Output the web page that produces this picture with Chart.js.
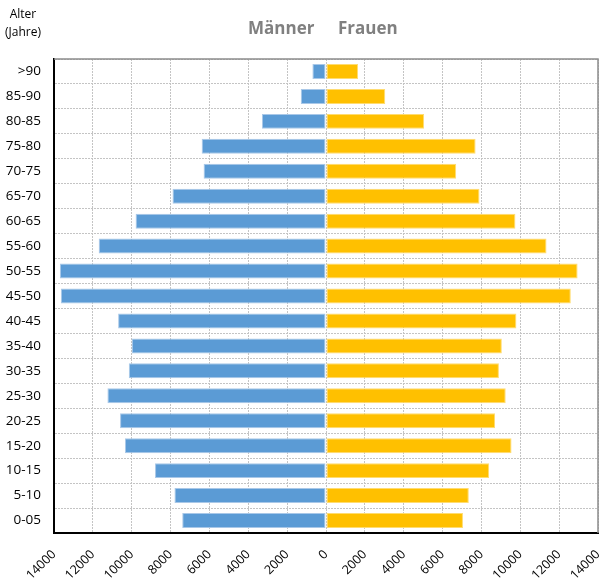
<!DOCTYPE html>
<html>
<head>
<meta charset="utf-8">
<script src="https://cdn.jsdelivr.net/npm/chart.js@4.4.1/dist/chart.umd.min.js"></script>
<style>
  body { margin: 0; background: #fff; font-family: "Open Sans", "Liberation Sans", sans-serif; }
  #wrap { position: relative; width: 601px; height: 581px; }
  canvas { position: absolute; left: 0; top: 0; }
  .lbl { position: absolute; white-space: nowrap; }
  .axisTitle { font-size: 12px; color: #000; line-height: 18px; text-align: center; left: 5px; top: 5px; }
  .sexTitle { font-size: 17px; font-weight: bold; color: #808080; top: 16px; }
</style>
</head>
<body>
<div id="wrap">
  <canvas id="pyramid" width="601" height="581"></canvas>
  <div class="lbl axisTitle">Alter<br>(Jahre)</div>
  <div class="lbl sexTitle" style="left:248px">Männer</div>
  <div class="lbl sexTitle" style="left:338px">Frauen</div>
</div>
<script>
// ===== Data (top row first) =====
const ageGroups = [">90", "85-90", "80-85", "75-80", "70-75", "65-70", "60-65", "55-60", "50-55",
    "45-50", "40-45", "35-40", "30-35", "25-30", "20-25", "15-20", "10-15", "5-10", "0-05"];
const men = [700, 1300, 3300, 6400, 6300, 7900, 9800, 11700, 13700,
    13650, 10700, 10000, 10150, 11250, 10600, 10350, 8800, 7800, 7400];
const women = [1650, 3050, 5050, 7700, 6700, 7900, 9750, 11350, 12950,
    12600, 9800, 9050, 8900, 9250, 8700, 9550, 8400, 7350, 7050];
const axisMin = -14000, axisMax = 14000, axisStep = 2000;

// gray frame on top/right of plot area
const frame = {
    id: "frame",
    afterDraw(chart) {
        const a = chart.chartArea, ctx = chart.ctx;
        ctx.save();
        ctx.strokeStyle = "#8c8c8c";
        ctx.lineWidth = 1.5;
        ctx.beginPath();
        ctx.moveTo(a.left, a.top);
        ctx.lineTo(a.right, a.top);
        ctx.lineTo(a.right, a.bottom);
        ctx.stroke();
        ctx.restore();
    }
};

new Chart(document.getElementById("pyramid"), {
    type: "bar",
    data: {
        labels: ageGroups,
        datasets: [
            {
                label: "Männer",
                data: men.map(v => -v),
                backgroundColor: "#5b9bd5",
                borderColor: "#a9c8e8",
                borderWidth: 1,
                borderSkipped: false
            },
            {
                label: "Frauen",
                data: women,
                backgroundColor: "#ffc000",
                borderColor: "#ffdc70",
                borderWidth: 1,
                borderSkipped: false
            }
        ]
    },
    options: {
        indexAxis: "y",
        responsive: false,
        animation: false,
        layout: { autoPadding: false, padding: { top: 59, right: 3, left: 0, bottom: 0 } },
        datasets: { bar: { barPercentage: 0.6, categoryPercentage: 1.0 } },
        plugins: {
            legend: { display: false },
            tooltip: { enabled: false }
        },
        scales: {
            x: {
                stacked: true,
                min: axisMin,
                max: axisMax,
                ticks: {
                    stepSize: axisStep,
                    color: "#000",
                    font: { family: "Open Sans", size: 12.5 },
                    minRotation: 45,
                    maxRotation: 45,
                    padding: 14,
                    callback: v => Math.abs(v)
                },
                grid: { color: "#c4c4c4", drawTicks: false },
                border: { color: "#000", width: 2, dash: [2, 1] },
                afterFit(s) { s.height = 48; s.paddingLeft = 0; s.paddingRight = 0; }
            },
            y: {
                stacked: true,
                ticks: {
                    color: "#000",
                    font: { family: "Open Sans", size: 13.5 },
                    padding: 13
                },
                grid: { color: "#c4c4c4", offset: true, drawTicks: false },
                border: { color: "#000", width: 2, dash: [2, 1] },
                afterFit(s) { s.width = 54; s.paddingTop = 0; s.paddingBottom = 0; }
            }
        }
    },
    plugins: [frame]
});
</script>
</body>
</html>
